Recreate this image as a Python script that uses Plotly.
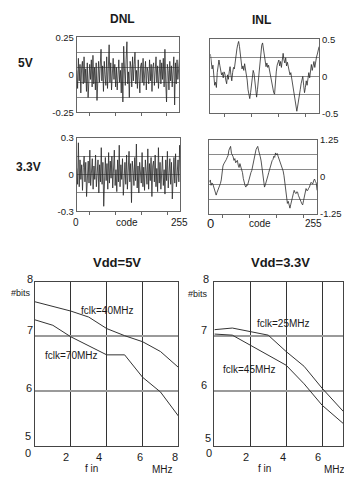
import plotly.graph_objects as go

W, H = 344, 479

# ---------------- data ----------------
dnl_5v = [0.03, -0.09, 0.11, -0.04, 0.07, -0.12, 0.05, 0.09, -0.06, 0.12,
          -0.05, 0.04, -0.11, 0.08, -0.15, 0.02, 0.07, -0.03, 0.10, -0.08,
          0.13, -0.06, 0.05, -0.10, 0.08, -0.17, 0.03, 0.09, -0.05, 0.06,
          0.17, -0.04, 0.06, -0.11, 0.09, 0.00, -0.07, 0.12, -0.09, 0.04,
          0.20, -0.05, 0.08, -0.10, 0.06, 0.11, -0.03, 0.07, -0.08, 0.05,
          -0.10, 0.06, 0.10, -0.05, 0.03, -0.12, 0.08, -0.18, 0.19, 0.04,
          -0.07, 0.10, 0.22, -0.06, 0.02, -0.15, 0.09, 0.05, -0.08, 0.12,
          -0.04, 0.07, 0.15, -0.06, 0.03, -0.09, 0.10, -0.02, -0.12, 0.06,
          0.08, -0.05, 0.11, -0.07, 0.04, 0.09, -0.10, 0.05, 0.02, -0.06,
          0.10, -0.04, 0.07, -0.11, 0.05, 0.08, -0.07, 0.03, 0.12, -0.05,
          0.06, -0.09, 0.04, 0.10, -0.06, 0.08, -0.03, 0.11, -0.08, 0.17,
          -0.05, -0.18, 0.07, 0.03, -0.10, 0.09, -0.04, 0.06, -0.08, 0.05,
          0.12, -0.20, 0.08, -0.06, 0.10, -0.03, 0.07, 0.11]

inl_5v = [0.30, 0.20, 0.10, 0.15, -0.05, -0.12, -0.08, -0.15, 0.05, 0.12,
          0.22, 0.15, 0.08, 0.02, 0.05, -0.02, 0.06, 0.03, -0.05, -0.10,
          0.02, -0.04, 0.06, 0.13, 0.02, -0.06, 0.05, 0.12, 0.10, 0.22,
          0.30, 0.37, 0.43, 0.47, 0.40, 0.28, 0.18, 0.10, 0.14, 0.08,
          0.17, 0.10, 0.02, -0.05, -0.18, -0.26, -0.30, -0.22, -0.12, 0.02,
          0.08, 0.04, -0.05, -0.15, -0.28, -0.18, -0.04, 0.10, 0.24, 0.36,
          0.42, 0.45, 0.38, 0.30, 0.22, 0.13, 0.18, 0.12, 0.15, 0.08,
          0.02, -0.04, -0.12, -0.18, -0.22, -0.24, -0.05, 0.06, 0.15, 0.18,
          0.22, 0.14, 0.20, 0.12, 0.28, 0.31, 0.22, 0.18, 0.25, 0.14,
          0.19, 0.12, 0.08, 0.02, 0.05, -0.02, -0.10, -0.18, -0.26, -0.33,
          -0.42, -0.47, -0.40, -0.34, -0.25, -0.18, -0.10, -0.03, 0.00, -0.12,
          -0.22, -0.15, -0.06, -0.12, 0.00, 0.05, -0.02, 0.10, 0.16, 0.08,
          0.14, 0.20, 0.12, 0.22, 0.26, 0.30, 0.34, 0.40]

dnl_33 = [0.05, -0.08, 0.26, -0.10, 0.12, -0.04, 0.08, -0.13, 0.06, 0.15,
          -0.06, 0.10, -0.18, 0.04, 0.11, -0.07, 0.20, -0.09, 0.05, 0.13,
          -0.12, 0.07, -0.04, 0.16, -0.10, 0.03, 0.12, -0.15, 0.08, -0.06,
          0.22, -0.08, 0.10, -0.26, 0.06, 0.14, -0.05, 0.09, -0.12, 0.18,
          -0.07, 0.11, -0.03, 0.15, -0.11, 0.06, 0.20, -0.09, 0.04, -0.14,
          0.12, -0.06, 0.24, -0.10, 0.08, -0.04, 0.13, -0.17, 0.07, 0.10,
          -0.08, 0.16, -0.12, 0.05, 0.19, -0.06, 0.09, -0.23, 0.11, 0.03,
          -0.09, 0.14, -0.05, 0.25, -0.11, 0.07, -0.15, 0.10, 0.04, -0.07,
          0.18, -0.10, 0.06, -0.13, 0.12, 0.02, -0.08, 0.21, -0.12, 0.09,
          -0.05, 0.14, -0.18, 0.07, 0.11, -0.06, 0.16, -0.10, 0.05, -0.14,
          0.22, -0.07, 0.10, -0.12, 0.08, 0.15, -0.09, 0.04, -0.16, 0.12,
          -0.05, 0.19, -0.11, 0.07, 0.13, -0.08, 0.10, -0.20, 0.06, 0.14,
          -0.07, 0.17, -0.10, 0.05, 0.12, -0.06, 0.24, 0.03]

inl_33 = [-0.18, -0.10, -0.28, -0.20, -0.23, -0.32, -0.39, -0.50, -0.61, -0.52,
          -0.45, -0.38, -0.34, -0.22, -0.10, 0.20, 0.37, 0.44, 0.48, 0.55,
          0.59, 0.66, 0.72, 0.90, 0.98, 1.03, 0.80, 0.76, 0.68, 0.56,
          0.62, 0.48, 0.52, 0.56, 0.40, 0.32, 0.45, 0.36, 0.20, 0.15,
          -0.05, -0.23, -0.28, -0.34, -0.26, -0.28, -0.15, -0.07, 0.05, 0.15,
          0.22, 0.37, 0.50, 0.59, 0.75, 0.92, 0.98, 1.03, 0.90, 0.81,
          0.68, 0.54, 0.30, 0.04, -0.18, -0.34, -0.26, -0.18, -0.05, 0.04,
          0.15, 0.26, 0.37, 0.42, 0.55, 0.59, 0.70, 0.66, 0.81, 0.74,
          0.79, 0.70, 0.62, 0.54, 0.48, 0.37, 0.35, 0.20, 0.04, -0.18,
          -0.45, -0.72, -0.89, -0.82, -1.00, -1.05, -0.92, -0.83, -0.68, -0.56,
          -0.45, -0.52, -0.56, -0.50, -0.51, -0.62, -0.72, -0.78, -0.83, -0.90,
          -0.94, -0.80, -0.67, -0.55, -0.39, -0.46, -0.45, -0.38, -0.34, -0.25,
          -0.18, -0.22, -0.23, -0.12, -0.07, -0.15, -0.20, -0.45]

fin_5v_40 = [0, 1, 2, 3, 4, 5, 6, 7, 8]
bits_5v_40 = [7.63, 7.55, 7.46, 7.35, 7.14, 7.01, 6.90, 6.72, 6.43]
fin_5v_70 = [0, 1, 2, 4, 5, 6, 7, 8]
bits_5v_70 = [7.30, 7.20, 6.99, 6.66, 6.66, 6.25, 5.98, 5.54]

fin_33_25 = [0, 1, 3, 4, 5, 6, 7.2]
bits_33_25 = [7.12, 7.15, 7.02, 6.72, 6.45, 6.05, 5.62]
fin_33_45 = [0, 1, 4, 5, 6, 7.2]
bits_33_45 = [7.04, 7.02, 6.47, 6.13, 5.74, 5.40]

dnl5_ticks = [-0.25, 0, 0.25]
dnl33_ticks = [-0.3, 0, 0.3]
inl5_ticks = [-0.5, 0, 0.5]
inl33_ticks = [-1.25, 0, 1.25]
dnl5_ticktext = ["-0.25", "0", "0.25"]
dnl33_ticktext = ["-0.3", "0", "0.3"]
inl5_ticktext = ["-0.5", "0", "0.5"]
inl33_ticktext = ["-1.25", "0", "1.25"]


def codes(vals):
    n = len(vals)
    return [i * 255 / (n - 1) for i in range(n)]


# ---------------- helpers ----------------
def dx(a, b):
    return [a / W, b / W]


def dy(top, bottom):
    return [1 - bottom / H, 1 - top / H]


def X(px):
    return px / W


def Y(py):
    return 1 - py / H


FONT = "Arial, Liberation Sans, Helvetica, sans-serif"
INK = "#1a1a1a"
NOISE = "#2a2a2a"
BOX = "#666666"

fig = go.Figure()

top_series = [
    (dnl_5v, "x", "y"),
    (inl_5v, "x2", "y2"),
    (dnl_33, "x3", "y3"),
    (inl_33, "x4", "y4"),
]
for vals, xa, ya in top_series:
    fig.add_trace(go.Scatter(x=codes(vals), y=vals, xaxis=xa, yaxis=ya, mode="lines",
                             line=dict(color=NOISE, width=0.8), showlegend=False,
                             hoverinfo="skip"))

bottom_series = [
    (fin_5v_40, bits_5v_40, "x5", "y5"),
    (fin_5v_70, bits_5v_70, "x5", "y5"),
    (fin_33_25, bits_33_25, "x6", "y6"),
    (fin_33_45, bits_33_45, "x6", "y6"),
]
for xs, ys, xa, ya in bottom_series:
    fig.add_trace(go.Scatter(x=xs, y=ys, xaxis=xa, yaxis=ya, mode="lines",
                             line=dict(color="#333333", width=1), showlegend=False,
                             hoverinfo="skip"))


def top_x(domain, anchor):
    return dict(domain=domain, anchor=anchor, range=[0, 255], showline=True, mirror=True,
                linecolor=BOX, linewidth=1, showgrid=False, zeroline=False,
                showticklabels=False, ticks="outside", ticklen=3, tickcolor=BOX,
                tickvals=[32, 96, 160, 224])


def top_y(domain, anchor, rng, tv, tt, grid, side="left"):
    return dict(domain=domain, anchor=anchor, range=rng, side=side, showline=True,
                mirror=True, linecolor=BOX, linewidth=1, showgrid=False, zeroline=False,
                tickvals=tv, ticktext=tt, ticks="", tickfont=dict(size=9.5, color=INK, family=FONT),
                minor=dict(tickvals=grid, showgrid=True, gridcolor="#8a8a8a", gridwidth=1, ticks=""))


fig.update_layout(
    xaxis=top_x(dx(77, 180), "y"),
    yaxis=top_y(dy(32, 109), "x", [-0.25, 0.25], dnl5_ticks, dnl5_ticktext, [-0.15, -0.05, 0.05, 0.15]),
    xaxis2=top_x(dx(211, 320), "y2"),
    yaxis2=top_y(dy(34, 110), "x2", [-0.5, 0.5], inl5_ticks, inl5_ticktext, [-0.25, 0, 0.25], side="right"),
    xaxis3=top_x(dx(77, 181), "y3"),
    yaxis3=top_y(dy(135, 210), "x3", [-0.3, 0.3], dnl33_ticks, dnl33_ticktext, [-0.15, 0, 0.15]),
    xaxis4=top_x(dx(210, 318), "y4"),
    yaxis4=top_y(dy(137, 213), "x4", [-1.25, 1.25], inl33_ticks, inl33_ticktext, [-0.75, -0.25, 0.25, 0.75], side="right"),
)


def bot_x(domain, anchor, rng):
    return dict(domain=domain, anchor=anchor, range=rng, showline=True, mirror=True,
                linecolor="#444444", linewidth=1, tickvals=[2, 4, 6], showgrid=True,
                gridcolor="#333333", gridwidth=1, showticklabels=False, ticks="",
                zeroline=False)


def bot_y(domain, anchor):
    return dict(domain=domain, anchor=anchor, range=[5, 8], showline=True, mirror=True,
                linecolor="#444444", linewidth=1, tickvals=[6, 7], showgrid=True,
                gridcolor="#9a9a9a", gridwidth=1.5, showticklabels=False, ticks="",
                zeroline=False)


fig.update_layout(
    xaxis5=bot_x(dx(35, 179), "y5", [0, 8]),
    yaxis5=bot_y(dy(282, 450), "x5"),
    xaxis6=bot_x([215 / W, 1.0], "y6", [0, (W - 215) / 18]),
    yaxis6=bot_y(dy(282, 450), "x6"),
)

# ---------------- text ----------------
ann = []


def txt(s, px, py, size=10, bold=False, xanchor="center"):
    ann.append(dict(x=X(px), y=Y(py), xref="paper", yref="paper", text=f"<b>{s}</b>" if bold else s,
                    showarrow=False, xanchor=xanchor, yanchor="middle",
                    font=dict(size=size, color=INK, family=FONT)))


txt("DNL", 123, 13, 12, True)
txt("INL", 262, 14, 12, True)
txt("5V", 26, 58, 12, True)
txt("3.3V", 29, 165, 12, True)
txt("Vdd=5V", 117, 263, 13, True)
txt("Vdd=3.3V", 281, 263, 13, True)

txt("0", 76, 222, 10)
txt("code", 127, 222, 10)
txt("255", 180, 222, 10)
txt("0", 211, 223, 13)
txt("code", 261, 223, 10)
txt("255", 314, 223, 10)

for s, px, py, size in [("8", 30, 279, 11), ("#bits", 21, 294, 9), ("7", 30, 332, 11),
                         ("6", 29, 391, 11), ("5", 28, 440, 11), ("0", 28, 457, 11),
                         ("2", 66, 462, 11), ("4", 99, 462, 11), ("6", 140, 462, 11),
                         ("8", 176, 462, 11), ("f in", 92, 473, 10), ("MHz", 163, 474, 10),
                         ("fclk=40MHz", 108, 312, 10), ("fclk=70MHz", 72, 358, 10),
                         ("8", 207, 279, 11), ("#bits", 199, 295, 9), ("7", 205, 332, 11),
                         ("6", 205, 388, 11), ("5", 209, 442, 11), ("0", 210, 458, 11),
                         ("2", 247, 462, 11), ("4", 284, 462, 11), ("6", 319, 462, 11),
                         ("f in", 265, 473, 10), ("MHz", 335, 474, 10),
                         ("fclk=25MHz", 284, 325, 10), ("fclk=45MHz", 250, 372, 10)]:
    txt(s, px, py, size)

fig.update_layout(
    annotations=ann,
    width=W, height=H,
    margin=dict(l=0, r=0, t=0, b=0),
    paper_bgcolor="white", plot_bgcolor="white",
    font=dict(family=FONT, color=INK),
    showlegend=False,
)

fig.write_html("out.html", config={"displayModeBar": False})
